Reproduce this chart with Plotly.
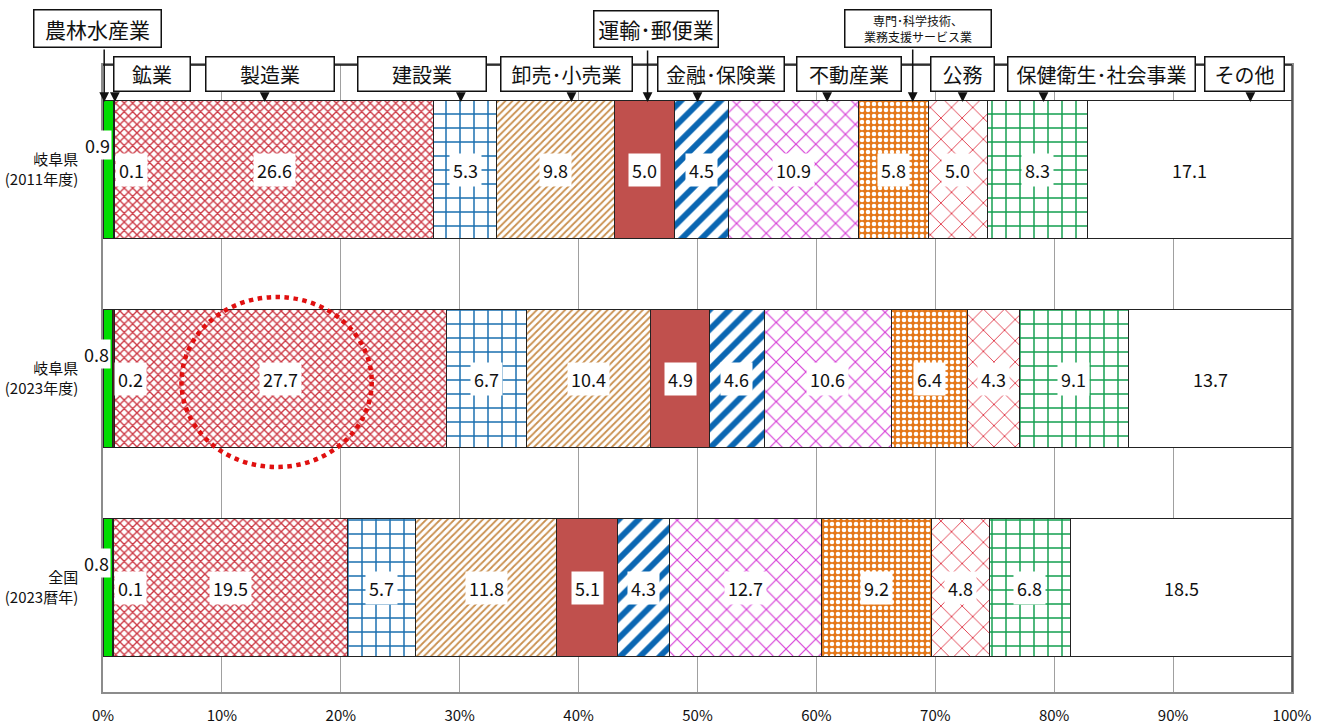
import plotly.graph_objects as go

# ---- data -----------------------------------------------------------------
categories = ["岐阜県<br>(2011年度)", "岐阜県<br>(2023年度)", "全国<br>(2023暦年)"]
industries = ["農林水産業", "鉱業", "製造業", "建設業", "卸売・小売業", "運輸・郵便業",
              "金融・保険業", "不動産業", "専門・科学技術、業務支援サービス業", "公務",
              "保健衛生・社会事業", "その他"]

agriculture = [0.9, 0.8, 0.8]
mining = [0.1, 0.2, 0.1]
manufacturing = [26.6, 27.7, 19.5]
construction = [5.3, 6.7, 5.7]
trade = [9.8, 10.4, 11.8]
transport = [5.0, 4.9, 5.1]
finance = [4.5, 4.6, 4.3]
real_estate = [10.9, 10.6, 12.7]
professional = [5.8, 6.4, 9.2]
public_service = [5.0, 4.3, 4.8]
health = [8.3, 9.1, 6.8]
others = [17.1, 13.7, 18.5]

series = [agriculture, mining, manufacturing, construction, trade, transport,
          finance, real_estate, professional, public_service, health, others]

x_tick_values = [0, 10, 20, 30, 40, 50, 60, 70, 80, 90, 100]
x_tick_labels = ["0%", "10%", "20%", "30%", "40%", "50%", "60%", "70%", "80%", "90%", "100%"]

# ---- styling ----------------------------------------------------------------
FONT = "Noto Sans CJK JP, Noto Sans, sans-serif"
W, H = 1325, 726
L, R, T, B = 103, 33, 65, 34
PW, PH = W - L - R, H - T - B


def px_to_paper_x(px):
    return (px - L) / PW


def px_to_paper_y(py):
    return (H - B - py) / PH


def pat(shape, fg, size, solidity, bg="white"):
    return dict(shape=shape, fgcolor=fg, bgcolor=bg, size=size,
                solidity=solidity, fgopacity=1, fillmode="replace")


styles = [
    dict(color="#00dd00"),
    dict(color="#5b1f1f"),
    dict(color="white", pattern=pat("x", "#cc3844", 6, 0.4)),
    dict(color="white", pattern=pat("+", "#1a6fb0", 14, 0.2)),
    dict(color="white", pattern=pat("/", "#c98f4e", 5, 0.35)),
    dict(color="#c0504d"),
    dict(color="white", pattern=pat("/", "#0a66b2", 14, 0.42)),
    dict(color="white", pattern=pat("x", "#d63cd6", 14, 0.16)),
    dict(color="#e5781a", pattern=pat(".", "white", 6, 0.45, bg="#e5781a")),
    dict(color="white", pattern=pat("x", "#e03a4a", 15, 0.12)),
    dict(color="white", pattern=pat("+", "#14a050", 14, 0.2)),
    dict(color="white"),
]

fig = go.Figure()
for name, vals, st in zip(industries, series, styles):
    marker = dict(color=st["color"], line=dict(color="#222222", width=1))
    if "pattern" in st:
        marker["pattern"] = st["pattern"]
    fig.add_trace(go.Bar(
        y=categories, x=vals, name=name, orientation="h",
        marker=marker, hoverinfo="name+x",
    ))

# ---- value labels (positions follow the normalised stacks) ------------------
annotations = []
for ci, cat in enumerate(categories):
    total = sum(s[ci] for s in series)
    cum = 0.0
    for si, s in enumerate(series):
        v = s[ci]
        centre = (cum + v / 2) / total * 100
        cum += v
        xshift, yshift, pad = 0, 0, 3
        if si == 0:
            xshift, yshift, pad = -11, 25, 1
        elif si == 1:
            xshift = 17
        annotations.append(dict(
            x=centre, y=cat, xref="x", yref="y", text=f"{v:.1f}",
            showarrow=False, xshift=xshift, yshift=yshift,
            font=dict(family=FONT, size=18, color="#111111"),
            bgcolor="white", borderpad=pad,
        ))

# ---- pointer arrows from the industry boxes down to the top bar -------------
bar_top = px_to_paper_y(102)
arrows = [  # (x position in %, arrow length in px)
    (0.1, 54), (1.0, 10), (13.6, 10), (30.1, 10), (39.4, 10), (45.8, 53),
    (50.0, 10), (60.9, 10), (68.1, 54), (72.3, 10), (79.1, 10), (96.5, 10),
]
for xa, length in arrows:
    annotations.append(dict(
        x=xa, y=bar_top, xref="x", yref="paper", text="",
        showarrow=True, ax=0, ay=-length, axref="pixel", ayref="pixel",
        arrowhead=2, arrowsize=1.3, arrowwidth=1.5, arrowcolor="#111111",
    ))

# ---- industry name boxes ----------------------------------------------------
boxes = [  # (text, centre x px, centre y px, width, height, font size)
    ("農林水産業", 97, 28, 130, 40, 21),
    ("運輸･郵便業", 655.5, 29.5, 127, 39, 21),
    ("専門･科学技術、<br>業務支援サービス業", 917.5, 28, 149, 40, 12),
    ("鉱業", 151.5, 73.5, 79, 37, 20),
    ("製造業", 269.5, 73.5, 131, 37, 20),
    ("建設業", 421.5, 73.5, 131, 37, 20),
    ("卸売･小売業", 566, 73.5, 134, 37, 20),
    ("金融･保険業", 720.5, 73.5, 129, 37, 20),
    ("不動産業", 848.5, 73.5, 107, 37, 20),
    ("公務", 962, 73.5, 66, 37, 20),
    ("保健衛生･社会事業", 1101, 73.5, 190, 37, 20),
    ("その他", 1244, 73.5, 82, 37, 20),
]
for text, cx, cy, bw, bh, fs in boxes:
    annotations.append(dict(
        x=px_to_paper_x(cx), y=px_to_paper_y(cy), xref="paper", yref="paper",
        text=text, showarrow=False, xanchor="center", yanchor="middle",
        width=bw - 4, height=bh - 4, borderpad=0, borderwidth=1.5,
        bordercolor="#111111", bgcolor="white", align="center",
        font=dict(family=FONT, size=fs, color="#111111"),
    ))

shapes = [
    # top frame line joining the boxes, and right edge
    dict(type="line", xref="paper", yref="paper", x0=0, x1=1, y0=1, y1=1,
         line=dict(color="#111111", width=1.5), layer="above"),
    dict(type="line", xref="paper", yref="paper", x0=1, x1=1, y0=0, y1=1,
         line=dict(color="#444444", width=1.5), layer="above"),
    # highlight ring around manufacturing, Gifu 2023
    dict(type="circle", xref="x", yref="paper",
         x0=6.6, x1=22.6, y0=px_to_paper_y(467), y1=px_to_paper_y(297),
         line=dict(color="#e01010", width=4.5, dash="dot"), layer="above"),
]

fig.update_layout(
    width=W, height=H,
    margin=dict(l=L, r=R, t=T, b=B, autoexpand=False),
    barmode="stack", barnorm="percent", bargap=0.344,
    showlegend=False,
    paper_bgcolor="white", plot_bgcolor="white",
    font=dict(family=FONT, color="#111111"),
    annotations=annotations, shapes=shapes,
)
fig.update_xaxes(
    range=[0, 100], tickvals=x_tick_values, ticktext=x_tick_labels,
    showgrid=True, gridcolor="#a0a0a0", gridwidth=1, zeroline=False,
    showline=True, linecolor="#8c8c8c", linewidth=1.5, mirror=True,
    ticks="", ticklabelstandoff=9, automargin=False,
    tickfont=dict(family=FONT, size=15, color="#111111"),
)
fig.update_yaxes(
    autorange="reversed", showgrid=False,
    showline=True, linecolor="#8c8c8c", linewidth=1.5, mirror=True,
    ticks="", ticklabelstandoff=20, automargin=False,
    tickfont=dict(family=FONT, size=15, color="#111111"),
)

fig.write_html("out.html")
